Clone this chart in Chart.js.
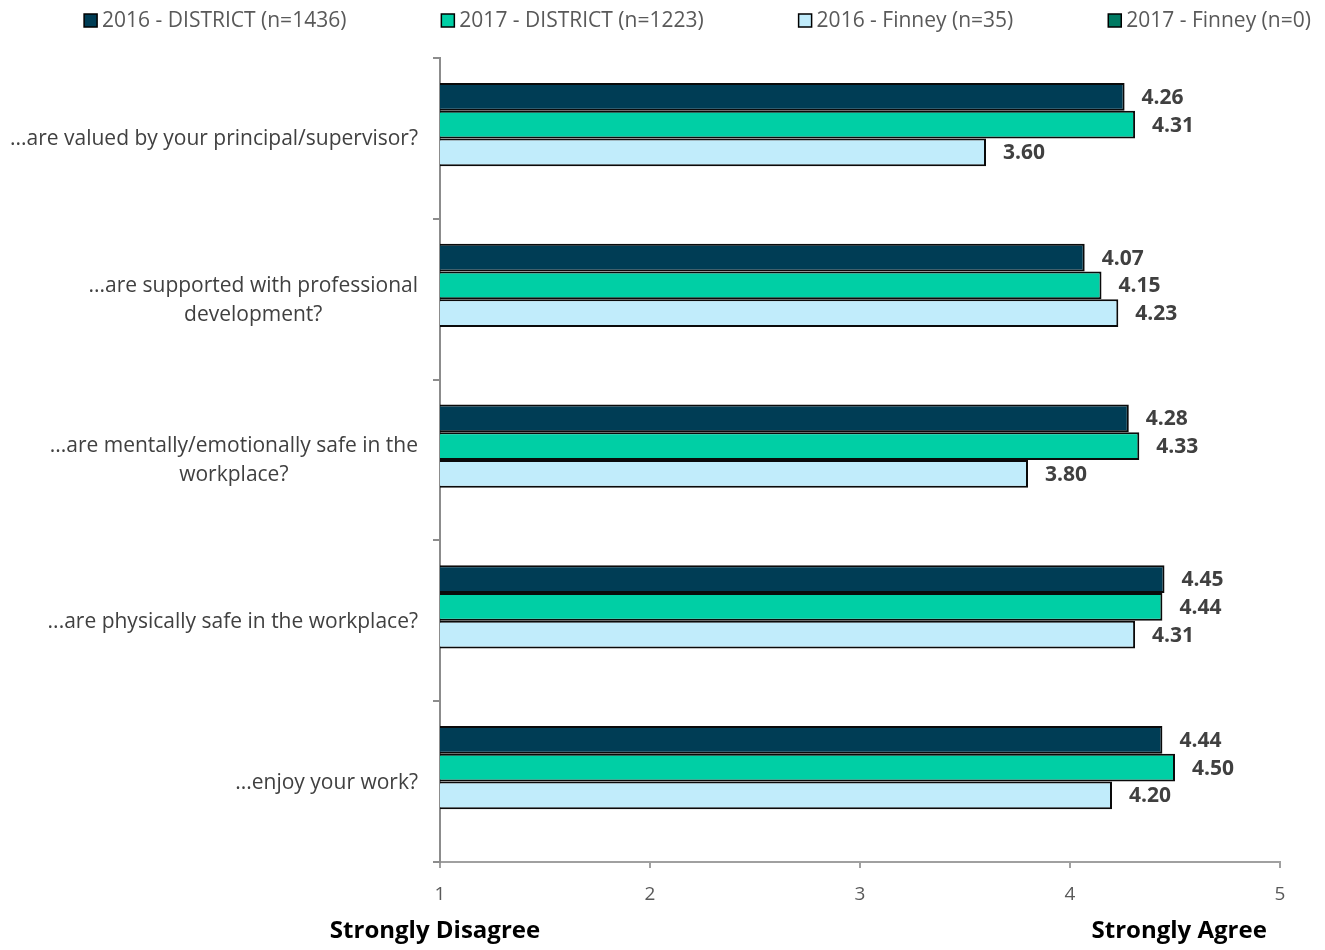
<!DOCTYPE html>
<html>
<head>
<meta charset="utf-8">
<script src="https://cdn.jsdelivr.net/npm/chart.js@4"></script>
<style>
  html, body { margin: 0; padding: 0; background: #fff; }
  #wrap { width: 1325px; height: 950px; }
</style>
</head>
<body>
<div id="wrap"><canvas id="myChart" width="1325" height="950"></canvas></div>
<script>
// categories (questions) and series values
const categories = [
    '...are valued by your principal/supervisor?',
    ['...are supported with professional', 'development?'],
    ['...are mentally/emotionally safe in the', 'workplace?'],
    '...are physically safe in the workplace?',
    '...enjoy your work?'
];
const seriesNames = ['2016 - DISTRICT (n=1436)', '2017 - DISTRICT (n=1223)', '2016 - Finney (n=35)', '2017 - Finney (n=0)'];
const district2016 = [4.26, 4.07, 4.28, 4.45, 4.44];
const district2017 = [4.31, 4.15, 4.33, 4.44, 4.50];
const finney2016 = [3.60, 4.23, 3.80, 4.31, 4.20];
const finney2017 = [null, null, null, null, null];
const xTicks = [1, 2, 3, 4, 5];
const colors = ['#003D55', '#00CFA5', '#C1ECFB', '#007A62'];

const FONT = '"Open Sans", Lato, sans-serif';

// draws the value at the end of each bar
const valueLabels = {
    id: 'valueLabels',
    afterDatasetsDraw(chart) {
        const ctx = chart.ctx;
        ctx.save();
        ctx.font = 'bold 21px ' + FONT;
        ctx.fillStyle = '#404040';
        ctx.textAlign = 'left';
        ctx.textBaseline = 'middle';
        chart.data.datasets.forEach((ds, i) => {
            const meta = chart.getDatasetMeta(i);
            meta.data.forEach((bar, j) => {
                const v = ds.data[j];
                if (v == null) return;
                ctx.fillText(v.toFixed(2), bar.x + 17, bar.y + 1);
            });
        });
        ctx.restore();
    }
};

// category labels: right aligned block, lines centred within block
const catLabels = {
    id: 'catLabels',
    afterDraw(chart) {
        const ctx = chart.ctx;
        const y = chart.scales.y;
        const right = chart.chartArea.left - 22;
        ctx.save();
        ctx.font = '21px ' + FONT;
        ctx.fillStyle = '#404040';
        ctx.textAlign = 'center';
        ctx.textBaseline = 'middle';
        categories.forEach((c, i) => {
            const lines = Array.isArray(c) ? c : [c];
            const w = Math.max(...lines.map(l => ctx.measureText(l).width));
            const cx = right - w / 2;
            const lh = 29;
            const cy = y.getPixelForTick(i);
            lines.forEach((l, k) => {
                ctx.fillText(l, cx, cy + 1 + (k - (lines.length - 1) / 2) * lh);
            });
        });
        ctx.restore();
    }
};

// legend across the top + axis end titles
const extras = {
    id: 'extras',
    afterDraw(chart) {
        const ctx = chart.ctx;
        ctx.save();
        ctx.font = '21px ' + FONT;
        ctx.textBaseline = 'middle';
        const gap = 95, box = 13;
        const widths = seriesNames.map(n => box + 5 + ctx.measureText(n).width);
        const total = widths.reduce((a, b) => a + b, 0) + gap * (seriesNames.length - 1);
        let x = 697.5 - total / 2;
        seriesNames.forEach((n, i) => {
            ctx.fillStyle = colors[i];
            ctx.fillRect(x, 14, box, box);
            ctx.strokeStyle = '#000';
            ctx.lineWidth = 1.5;
            ctx.strokeRect(x, 14, box, box);
            ctx.fillStyle = '#595959';
            ctx.textAlign = 'left';
            ctx.fillText(n, x + box + 5, 21);
            x += widths[i] + gap;
        });

        const xs = chart.scales.x;
        ctx.font = 'bold 24px ' + FONT;
        ctx.fillStyle = '#000';
        ctx.textAlign = 'center';
        ctx.fillText('Strongly Disagree', xs.getPixelForValue(1) - 5, 931);
        ctx.fillText('Strongly Agree', xs.getPixelForValue(4.52), 931);
        ctx.restore();
    }
};

const data = {
    labels: categories,
    datasets: [district2016, district2017, finney2016, finney2017].map((d, i) => ({
        label: seriesNames[i],
        data: d,
        backgroundColor: colors[i],
        borderColor: '#0a0a0a',
        borderWidth: 2,
        borderSkipped: 'start',
        barPercentage: 1,
        categoryPercentage: 0.69
    }))
};

const myChart = new Chart(document.getElementById('myChart'), {
    type: 'bar',
    data: data,
    options: {
        indexAxis: 'y',
        responsive: false,
        animation: false,
        layout: { padding: { top: 58, right: 45, left: 0, bottom: 0 } },
        plugins: {
            legend: { display: false },
            tooltip: { enabled: false }
        },
        scales: {
            x: {
                min: xTicks[0],
                max: xTicks[xTicks.length - 1],
                afterBuildTicks: s => { s.ticks = xTicks.map(v => ({ value: v })); },
                afterFit: s => { s.height = 88; },
                grid: { drawOnChartArea: false, tickLength: 6, color: '#a0a0a0', lineWidth: 2 },
                border: { color: '#a0a0a0', width: 2 },
                ticks: { font: { family: FONT, size: 19 }, color: '#595959', padding: 15 }
            },
            y: {
                afterFit: s => { s.width = 440; },
                grid: { offset: true, drawOnChartArea: false, tickLength: 7, color: '#8c8c8c', lineWidth: 2 },
                border: { color: '#8c8c8c', width: 2 },
                ticks: { display: false }
            }
        }
    },
    plugins: [valueLabels, catLabels, extras]
});
</script>
</body>
</html>
